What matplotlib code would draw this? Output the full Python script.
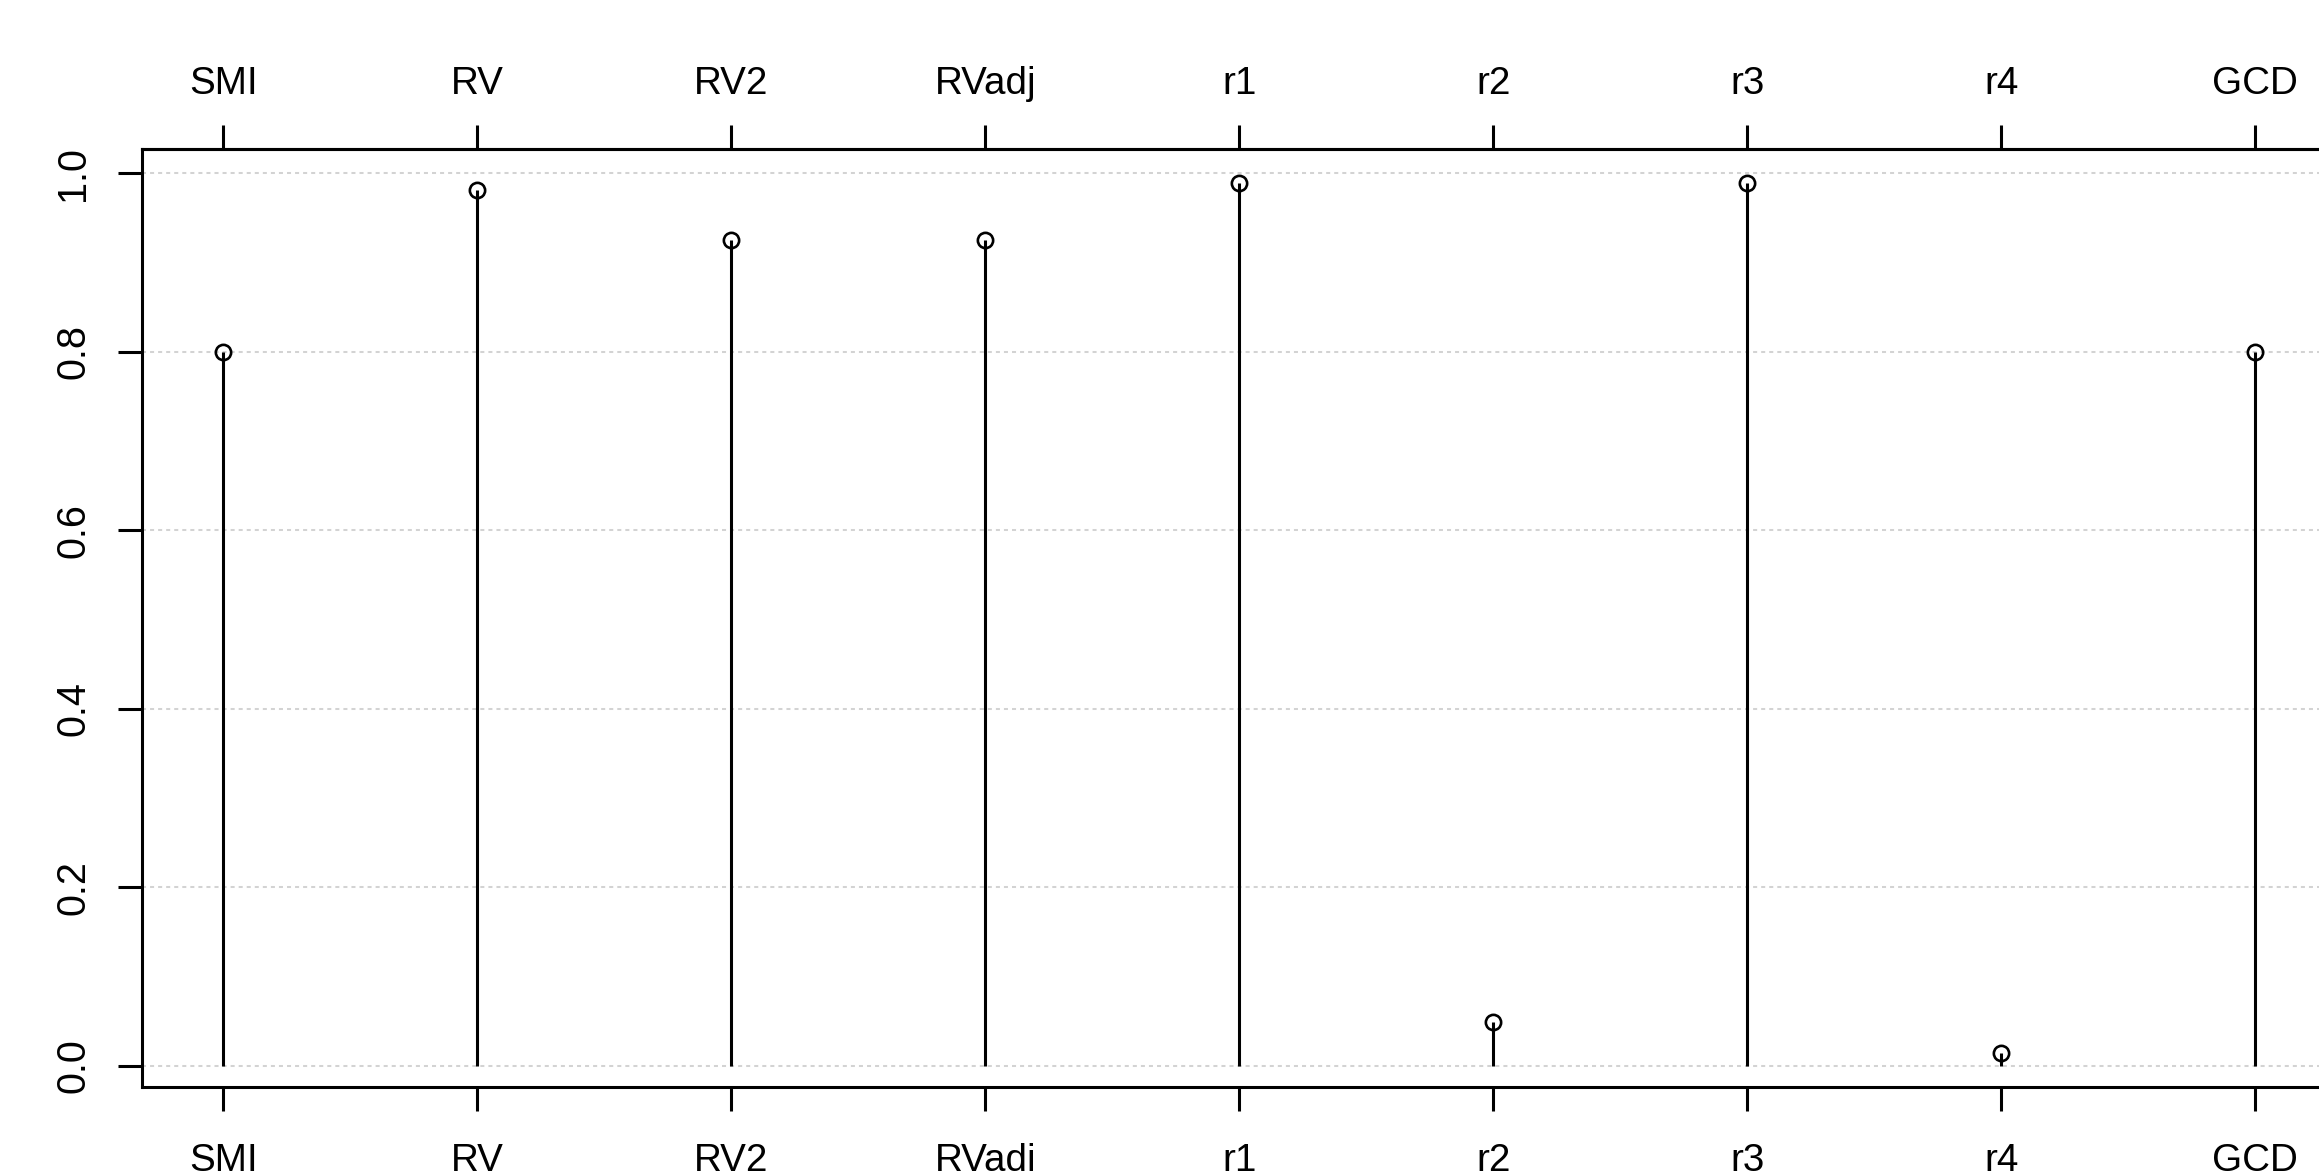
import matplotlib
matplotlib.use("Agg")
import matplotlib.pyplot as plt

# Werte je Index
labels = ['SMI', 'RV', 'RV2', 'RVadj', 'r1', 'r2', 'r3', 'r4', 'GCD']
values = [0.80, 0.981, 0.925, 0.925, 0.989, 0.049, 0.989, 0.015, 0.80]
yticks = [0.0, 0.2, 0.4, 0.6, 0.8, 1.0]

plt.rcParams['font.family'] = ['Liberation Sans', 'DejaVu Sans']

W, H = 2319, 1171
fig = plt.figure(figsize=(W / 100, H / 100), dpi=100)

# Achse geht rechts über den Bildrand hinaus (wie im Original abgeschnitten)
left, top, bottom = 142, 149, 1087
x = list(range(1, len(labels) + 1))
xlim = (0.68, 9.32)
px_per_unit = 254.0
ax_w = (xlim[1] - xlim[0]) * px_per_unit
ax = fig.add_axes([left / W, (H - bottom) / H, ax_w / W, (bottom - top) / H])

# Gitterlinien (nur horizontal)
for yv in yticks:
    ax.axhline(yv, color='#d3d3d3', lw=1.45, linestyle=(0, (2, 2)), zorder=0)

# Stäbe von 0 bis zum Wert + offene Kreise
ax.vlines(x, 0, values, color='black', lw=2.2, zorder=2)
ax.plot(x, values, 'o', mfc='none', mec='black', ms=11, mew=1.9, zorder=3)

ax.set_xlim(*xlim)
ax.set_ylim(-0.0235, 1.027)

for s in ax.spines.values():
    s.set_linewidth(2.2)

ax.set_yticks(yticks)
ax.set_yticklabels(['0.0', '0.2', '0.4', '0.6', '0.8', '1.0'], rotation=90, va='center')
ax.tick_params(axis='y', length=17, width=2.2, pad=19, labelsize=28.5)

ax.set_xticks(x)
ax.set_xticklabels(labels)
ax.tick_params(axis='x', length=17, width=2.2, pad=23, labelsize=27.8)

# obere Achse mit gleichen Beschriftungen
ax2 = ax.secondary_xaxis('top')
ax2.set_xticks(x)
ax2.set_xticklabels(labels)
ax2.tick_params(axis='x', length=17, width=2.2, pad=17, labelsize=27.8)
ax2.spines['top'].set_linewidth(2.2)

fig.savefig('out.png', dpi=100)
